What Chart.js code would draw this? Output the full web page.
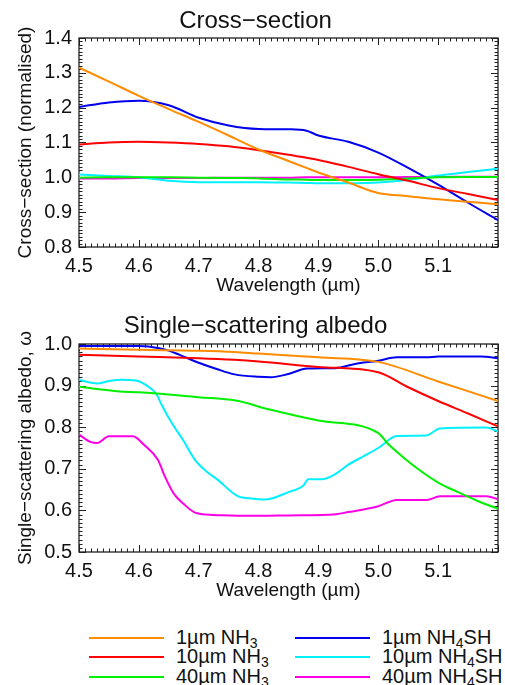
<!DOCTYPE html>
<html>
<head>
<meta charset="utf-8">
<style>
  body { margin: 0; background: #fff; width: 505px; height: 685px; position: relative; overflow: hidden;
         font-family: "Liberation Sans", Arial, sans-serif; }
  canvas { position: absolute; left: 0; }
  .swatch { position: absolute; width: 75px; height: 2px; }
  .lab { position: absolute; font-size: 20px; line-height: 20px; color: #111; white-space: nowrap; }
  .lab sub { font-size: 14px; line-height: 0; vertical-align: -4px; }
</style>
</head>
<body>
<canvas id="xsec" width="505" height="300" style="top:0"></canvas>
<canvas id="albedo" width="505" height="305" style="top:300px"></canvas>
<div id="legend"></div>

<script src="https://cdn.jsdelivr.net/npm/chart.js"></script>
<script>
    // series names and colours (same order in both panels)
    const seriesNames = ['1µm NH₃', '10µm NH₃', '40µm NH₃', '1µm NH₄SH', '10µm NH₄SH', '40µm NH₄SH'];
    const seriesColors = ['#ff8c00', '#ff0000', '#00f000', '#0000ee', '#00f0ff', '#ff00e6'];

    // --- cross-section (normalised) ---
    const csWl = [4.5, 4.55, 4.6, 4.65, 4.7, 4.75, 4.8, 4.85, 4.88, 4.9, 4.95, 5.0, 5.05, 5.1, 5.15, 5.2];
    const csNH3_1 = [1.315, 1.275, 1.234, 1.196, 1.159, 1.120, 1.080, 1.047, 1.027, 1.014, 0.985, 0.955, 0.946, 0.937, 0.930, 0.923];
    const csNH3_10 = [1.094, 1.100, 1.102, 1.100, 1.096, 1.089, 1.078, 1.065, 1.056, 1.050, 1.030, 1.009, 0.990, 0.969, 0.952, 0.935];
    const csNH3_40 = [0.999, 1.000, 1.000, 1.000, 0.999, 0.998, 0.997, 0.994, 0.993, 0.992, 0.992, 0.993, 0.997, 1.000, 1.001, 1.001];
    const csSH_1 = [1.202, 1.215, 1.220, 1.207, 1.171, 1.149, 1.139, 1.138, 1.134, 1.120, 1.102, 1.071, 1.027, 0.979, 0.927, 0.877];
    const csSH_10 = [1.008, 1.004, 1.000, 0.990, 0.986, 0.986, 0.986, 0.985, 0.984, 0.983, 0.983, 0.985, 0.993, 1.005, 1.015, 1.025];
    const csSH_40 = [0.997, 0.997, 0.998, 0.998, 0.998, 0.999, 0.999, 0.999, 1.000, 1.000, 1.000, 1.000, 1.001, 1.001, 1.002, 1.002];

    // --- single-scattering albedo ---
    const albNH3_1_wl = [4.5, 4.6, 4.7, 4.76, 4.8, 4.9, 5.0, 5.1, 5.2];
    const albNH3_1 = [0.989, 0.986, 0.984, 0.981, 0.977, 0.968, 0.957, 0.910, 0.863];
    const albNH3_10_wl = [4.5, 4.6, 4.7, 4.76, 4.8, 4.9, 5.0, 5.05, 5.1, 5.15, 5.2];
    const albNH3_10 = [0.974, 0.970, 0.966, 0.962, 0.958, 0.945, 0.932, 0.896, 0.863, 0.833, 0.802];
    const albNH3_40_wl = [4.5, 4.568, 4.6, 4.7, 4.762, 4.817, 4.9, 5.0, 5.017, 5.039, 5.067, 5.1, 5.133, 5.167, 5.2];
    const albNH3_40 = [0.897, 0.886, 0.884, 0.872, 0.864, 0.843, 0.816, 0.786, 0.759, 0.731, 0.699, 0.667, 0.644, 0.622, 0.604];
    const albSH_1_wl = [4.5, 4.6, 4.634, 4.65, 4.668, 4.7, 4.73, 4.76, 4.8, 4.82, 4.85, 4.881, 4.928, 4.961, 5.0, 5.031, 5.08, 5.1, 5.172, 5.2];
    const albSH_1 = [0.995, 0.995, 0.990, 0.984, 0.974, 0.955, 0.940, 0.927, 0.921, 0.920, 0.928, 0.941, 0.942, 0.952, 0.960, 0.968, 0.968, 0.970, 0.970, 0.966];
    const albSH_10_wl = [4.5, 4.52, 4.53, 4.55, 4.57, 4.595, 4.612, 4.629, 4.639, 4.655, 4.673, 4.695, 4.712, 4.734, 4.756, 4.767, 4.784, 4.81,
                         4.85, 4.875, 4.883, 4.906, 4.928, 4.95, 4.975, 5.0, 5.031, 5.08, 5.103, 5.18, 5.2];
    const albSH_10 = [0.914, 0.907, 0.905, 0.911, 0.914, 0.912, 0.901, 0.880, 0.851, 0.810, 0.771, 0.719, 0.695, 0.671, 0.643, 0.633, 0.629, 0.626,
                      0.644, 0.660, 0.675, 0.675, 0.687, 0.710, 0.730, 0.750, 0.779, 0.780, 0.797, 0.799, 0.790];
    const albSH_40_wl = [4.5, 4.52, 4.53, 4.55, 4.59, 4.609, 4.632, 4.643, 4.659, 4.676, 4.692, 4.712, 4.751, 4.8, 4.85, 4.93, 4.95, 4.975,
                         5.0, 5.031, 5.081, 5.103, 5.181, 5.2];
    const albSH_40 = [0.782, 0.764, 0.762, 0.778, 0.778, 0.757, 0.721, 0.683, 0.639, 0.614, 0.596, 0.590, 0.588, 0.587, 0.588, 0.591, 0.596, 0.602,
                      0.610, 0.625, 0.625, 0.634, 0.634, 0.627];

    const font = '"Liberation Sans", Arial, sans-serif';
    const pts = (wl, v) => wl.map((w, i) => ({ x: w, y: v[i] }));

    // IDL-style box with inward major/minor ticks on all four sides
    const boxTicks = {
        id: 'boxTicks',
        beforeDatasetsDraw(chart) {
            const { ctx, chartArea: a, scales: { x, y } } = chart;
            ctx.save();
            ctx.strokeStyle = '#222';
            ctx.lineWidth = 1;
            ctx.beginPath();
            for (let i = Math.round(x.min * 100); i <= Math.round(x.max * 100); i++) {
                const px = Math.round(x.getPixelForValue(i / 100)) + 0.5;
                const len = i % 10 === 0 ? 7 : 3.5;
                ctx.moveTo(px, a.bottom); ctx.lineTo(px, a.bottom - len);
                ctx.moveTo(px, a.top); ctx.lineTo(px, a.top + len);
            }
            for (let i = Math.round(y.min * 100); i <= Math.round(y.max * 100); i++) {
                const py = Math.round(y.getPixelForValue(i / 100)) + 0.5;
                const len = i % 10 === 0 ? 7 : 3.5;
                ctx.moveTo(a.left, py); ctx.lineTo(a.left + len, py);
                ctx.moveTo(a.right, py); ctx.lineTo(a.right - len, py);
            }
            ctx.stroke();
            ctx.lineWidth = 1.3;
            ctx.strokeRect(a.left, a.top, a.right - a.left, a.bottom - a.top);
            ctx.restore();
        }
    };

    function makePanel(id, title, titlePad, yTitle, yMin, yMax, datasets) {
        return new Chart(document.getElementById(id), {
            type: 'line',
            data: {
                datasets: datasets.map((d, i) => ({
                    label: seriesNames[i],
                    data: d,
                    borderColor: seriesColors[i],
                    borderWidth: 2,
                    pointRadius: 0,
                    fill: false,
                    cubicInterpolationMode: 'monotone'
                }))
            },
            options: {
                responsive: false,
                animation: false,
                layout: { padding: { left: 10, right: 4, top: 0, bottom: 3 } },
                plugins: {
                    legend: { display: false },
                    tooltip: { enabled: false },
                    title: {
                        display: true,
                        text: title,
                        color: '#111',
                        font: { family: font, size: 24, weight: 'normal', lineHeight: 1.2 },
                        padding: titlePad
                    }
                },
                scales: {
                    x: {
                        type: 'linear',
                        min: 4.5,
                        max: 5.2,
                        grid: { display: false, drawTicks: false },
                        border: { display: false },
                        ticks: {
                            stepSize: 0.1,
                            padding: 7,
                            color: '#111',
                            font: { family: font, size: 20 },
                            callback: v => (v > 5.15 ? '' : v.toFixed(1))
                        },
                        title: {
                            display: true,
                            text: 'Wavelength (µm)',
                            color: '#111',
                            font: { family: font, size: 19, lineHeight: 1.2 },
                            padding: { top: 0, bottom: 0 }
                        },
                        afterFit: s => { s.height = 50; }
                    },
                    y: {
                        min: yMin,
                        max: yMax,
                        grid: { display: false, drawTicks: false },
                        border: { display: false },
                        ticks: {
                            stepSize: 0.1,
                            padding: 7,
                            color: '#111',
                            font: { family: font, size: 20 },
                            callback: v => v.toFixed(1)
                        },
                        title: {
                            display: true,
                            text: yTitle,
                            color: '#111',
                            font: { family: font, size: 19, lineHeight: 1.2 },
                            padding: { top: 4, bottom: 0 }
                        },
                        afterFit: s => { s.width = 69; }
                    }
                }
            },
            plugins: [boxTicks]
        });
    }

    makePanel('xsec', 'Cross−section', { top: 6.5, bottom: 2.7 }, 'Cross−section (normalised)', 0.8, 1.4, [
        pts(csWl, csNH3_1), pts(csWl, csNH3_10), pts(csWl, csNH3_40),
        pts(csWl, csSH_1), pts(csWl, csSH_10), pts(csWl, csSH_40)
    ]);

    makePanel('albedo', 'Single−scattering albedo', { top: 12, bottom: 3.2 }, 'Single−scattering albedo, ω', 0.5, 1.0, [
        pts(albNH3_1_wl, albNH3_1), pts(albNH3_10_wl, albNH3_10), pts(albNH3_40_wl, albNH3_40),
        pts(albSH_1_wl, albSH_1), pts(albSH_10_wl, albSH_10), pts(albSH_40_wl, albSH_40)
    ]);

    // legend: two columns of three, drawn as html text
    const legend = document.getElementById('legend');
    const subs = { '₃': '3', '₄': '4' };
    seriesNames.forEach((name, i) => {
        const col = Math.floor(i / 3), row = i % 3;
        const lineX = col === 0 ? 89 : 295;
        const textX = col === 0 ? 176 : 382;
        const cy = 637.5 + row * 19.7;
        const sw = document.createElement('div');
        sw.className = 'swatch';
        sw.style.left = lineX + 'px';
        sw.style.top = (cy - 1) + 'px';
        sw.style.background = seriesColors[i];
        legend.appendChild(sw);
        const t = document.createElement('div');
        t.className = 'lab';
        t.style.left = textX + 'px';
        t.style.top = (cy - 11) + 'px';
        t.innerHTML = name.replace(/[₃₄]/g, c => '<sub>' + subs[c] + '</sub>');
        legend.appendChild(t);
    });
</script>
</body>
</html>
